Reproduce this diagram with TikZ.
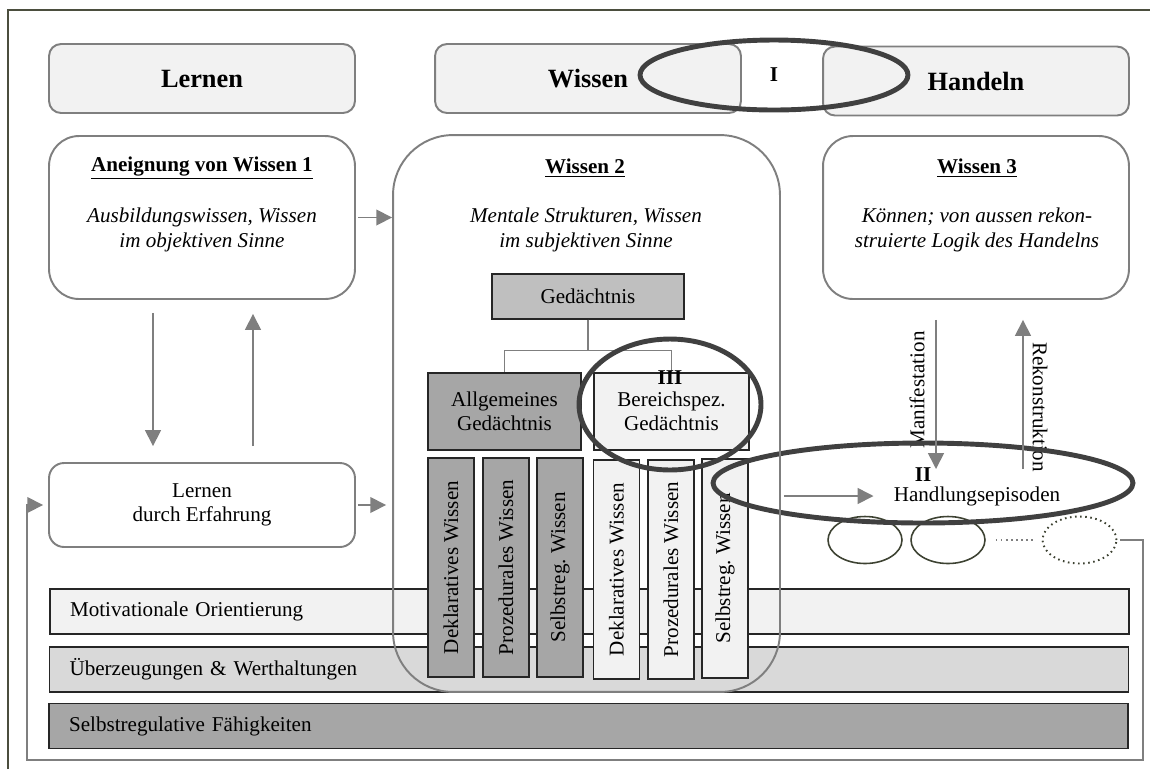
\documentclass[tikz,border=0pt]{standalone}
\usepackage{fontspec}
\setmainfont{Liberation Serif}
\usetikzlibrary{shapes.geometric,arrows.meta,calc}
\frenchspacing

\definecolor{framec}{HTML}{4B4E3E}
\definecolor{edgegray}{HTML}{7F7F7F}
\definecolor{darkedge}{HTML}{262626}
\definecolor{ringc}{HTML}{404040}
\definecolor{olivec}{HTML}{3D4232}
\definecolor{fillA}{HTML}{F2F2F2}
\definecolor{fillB}{HTML}{D9D9D9}
\definecolor{fillC}{HTML}{A6A6A6}
\definecolor{fillD}{HTML}{BFBFBF}

\newcommand{\txtsize}{\fontsize{12}{13.8}\selectfont}

\tikzset{
  header/.style={draw=edgegray, line width=1.1pt, fill=fillA, rounded corners=0.24cm,
    minimum width=6.12cm, minimum height=1.38cm, font=\fontsize{15}{18}\selectfont\bfseries},
  infobox/.style={draw=edgegray, line width=1.1pt, rounded corners=0.6cm,
    minimum width=6.12cm, minimum height=3.26cm},
  plain/.style={font=\txtsize, align=center, inner sep=0pt},
  boldlabel/.style={font=\txtsize\bfseries, align=center, inner sep=0pt},
  memo/.style={draw=darkedge, line width=0.8pt, font=\txtsize, align=center, inner sep=0pt},
  column/.style={memo, rotate=90, minimum width=4.38cm, minimum height=0.92cm},
  bar/.style={draw=darkedge, line width=0.8pt, font=\txtsize, minimum height=0.9cm,
    text width=20.78cm, inner xsep=0.4cm, align=left},
  ring/.style={ellipse, draw=ringc, line width=2.8pt, inner sep=0pt},
  episode/.style={ellipse, draw=olivec, line width=0.9pt, minimum width=1.48cm,
    minimum height=0.94cm, inner sep=0pt},
  arr/.style={draw=edgegray, line width=0.9pt, -{Triangle[length=9pt,width=9pt]}},
  treeline/.style={draw=edgegray, line width=0.7pt},
}

\begin{document}
\begin{tikzpicture}[x=0.02cm, y=-0.02cm]
  \useasboundingbox (0,0) rectangle (1150,769);

  % outer frame (top and left edges)
  \draw[framec, line width=1.1pt] (8,769) -- (8,10) -- (1150,10);

  % column headers
  \node[header] (Hlern) at (202,78.5) {Lernen};
  \node[header] (Hwiss) at (588,78.5) {Wissen};
  \node[header] (Hhand) at (976,81) {Handeln};
  \node[ring, minimum width=5.36cm, minimum height=1.4cm, font=\txtsize\bfseries] (RingI) at (774,75) {I};

  % knowledge 1 and 3
  \node[infobox] (A1) at (202,217.5) {};
  \node[boldlabel] (A1t) at (202,168) {\underline{Aneignung von Wissen 1}};
  \node[plain, font=\txtsize\itshape] (A1d) at (202,230) {Ausbildungswissen, Wissen\\im objektiven Sinne};

  \node[infobox] (W3) at (976,217.5) {};
  \node[boldlabel] (W3t) at (977,168) {\underline{Wissen 3}};
  \node[plain, font=\txtsize\itshape] (W3d) at (977,230) {Können; von aussen rekon-\\struierte Logik des Handelns};

  % learning by experience
  \node[draw=edgegray, line width=1.1pt, rounded corners=0.3cm, minimum width=6.12cm,
        minimum height=1.68cm, font=\txtsize, align=center] (LdE) at (202,505) {Lernen\\durch Erfahrung};

  % base layers
  \node[bar, fill=fillA] (Mot) at (589.5,611.5) {Motivationale Orientierung};
  \node[bar, fill=fillB] (Ueb) at (589,669.5) {Überzeugungen \& Werthaltungen};
  \node[bar, fill=fillC] (Sel) at (588.5,726) {Selbstregulative Fähigkeiten};

  % memory structure
  \node[plain] (W2t) at (585,168) {\textbf{\underline{Wissen 2}}};
  \node[plain, font=\txtsize\itshape] (W2d) at (586,230) {Mentale Strukturen, Wissen\\im subjektiven Sinne};
  \node[memo, fill=fillD, minimum width=3.84cm, minimum height=0.9cm] (G) at (588,296.5) {Gedächtnis};
  \node[memo, fill=fillC, minimum width=3.06cm, minimum height=1.54cm] (AG) at (504.5,411.5) {Allgemeines\\Gedächtnis};
  \node[memo, fill=fillA, minimum width=3.1cm, minimum height=1.54cm] (BG) at (671.5,411.5) {Bereichspez.\\Gedächtnis};
  \draw[treeline] (G.south) -- ++(0,31) -| (AG.north);
  \draw[treeline] (G.south) -- ++(0,31) -| (BG.north);

  \node[column, fill=fillC] (C1) at (451,567.5) {Deklaratives Wissen};
  \node[column, fill=fillC] (C2) at (506,567.5) {Prozedurales Wissen};
  \node[column, fill=fillC] (C3) at (560,567.5) {Selbstreg. Wissen};
  \node[column, fill=fillA] (C4) at (616.5,569.5) {Deklaratives Wissen};
  \node[column, fill=fillA] (C5) at (671,569.5) {Prozedurales Wissen};
  \node[column, fill=fillA] (C6) at (725,568.5) {Selbstreg. Wissen};

  \node[ring, minimum width=3.64cm, minimum height=2.62cm] (RingIII) at (670,404.5) {};
  \node[boldlabel] (IIIlab) at (670,378) {III};

  % action episodes
  \node[episode] (Ea) at (865,540) {};
  \node[episode] (Eb) at (948,540) {};
  \node[episode, dotted, line width=1.1pt] (Ec) at (1079.5,540) {};
  \draw[edgegray, dotted, line width=0.9pt, shorten <=0.2cm, shorten >=0.18cm] (Eb.east) -- (Ec.west);

  \node[plain, rotate=90] (ManL) at (917,390) {Manifestation};
  \node[plain, rotate=-90] (RekL) at (1040,407) {Rekonstruktion};

  \node[ring, minimum width=8.4cm, minimum height=1.6cm] (RingII) at (923,483) {};
  \node[boldlabel] (IIlab) at (923,475) {II};
  \node[plain] (HE) at (977,496) {Handlungsepisoden};

  % knowledge 2 outline
  \node[draw=edgegray, line width=1.1pt, rounded corners=1.2cm, minimum width=7.74cm,
        minimum height=11.14cm] (W2) at (586.5,413.5) {};

  % connectors
  \coordinate (manTop) at ([xshift=-0.8cm]W3.south);
  \coordinate (rekTop) at ([xshift=0.94cm]W3.south);
  \draw[arr, shorten <=0.4cm, shorten >=0.28cm] (manTop) -- (manTop |- RingII.center);
  \draw[arr, shorten <=0.28cm, shorten >=0.4cm] (rekTop |- RingII.center) -- (rekTop);

  \coordinate (downTop) at ([xshift=-0.98cm]A1.south);
  \coordinate (upTop) at ([xshift=1.02cm]A1.south);
  \draw[arr, shorten <=0.26cm, shorten >=0.32cm] (downTop) -- (downTop |- LdE.north);
  \draw[arr, shorten <=0.32cm, shorten >=0.28cm] (upTop |- LdE.north) -- (upTop);

  \draw[arr, shorten <=0.04cm] (A1.east) -- (A1.east -| W2.west);
  \draw[arr, shorten <=0.04cm, shorten >=0.12cm] (LdE.east) -- (LdE.east -| W2.west);
  \draw[arr, shorten <=0.06cm, shorten >=0.4cm] (W2.east |- HE.west) -- (HE.west);

  \coordinate (fbR) at (1143,760);
  \coordinate (fbL) at (27,760);
  \draw[arr, shorten <=0.06cm, shorten >=0.1cm] (Ec.east) -| (fbR) -- (fbL) |- (LdE.west);
\end{tikzpicture}
\end{document}
